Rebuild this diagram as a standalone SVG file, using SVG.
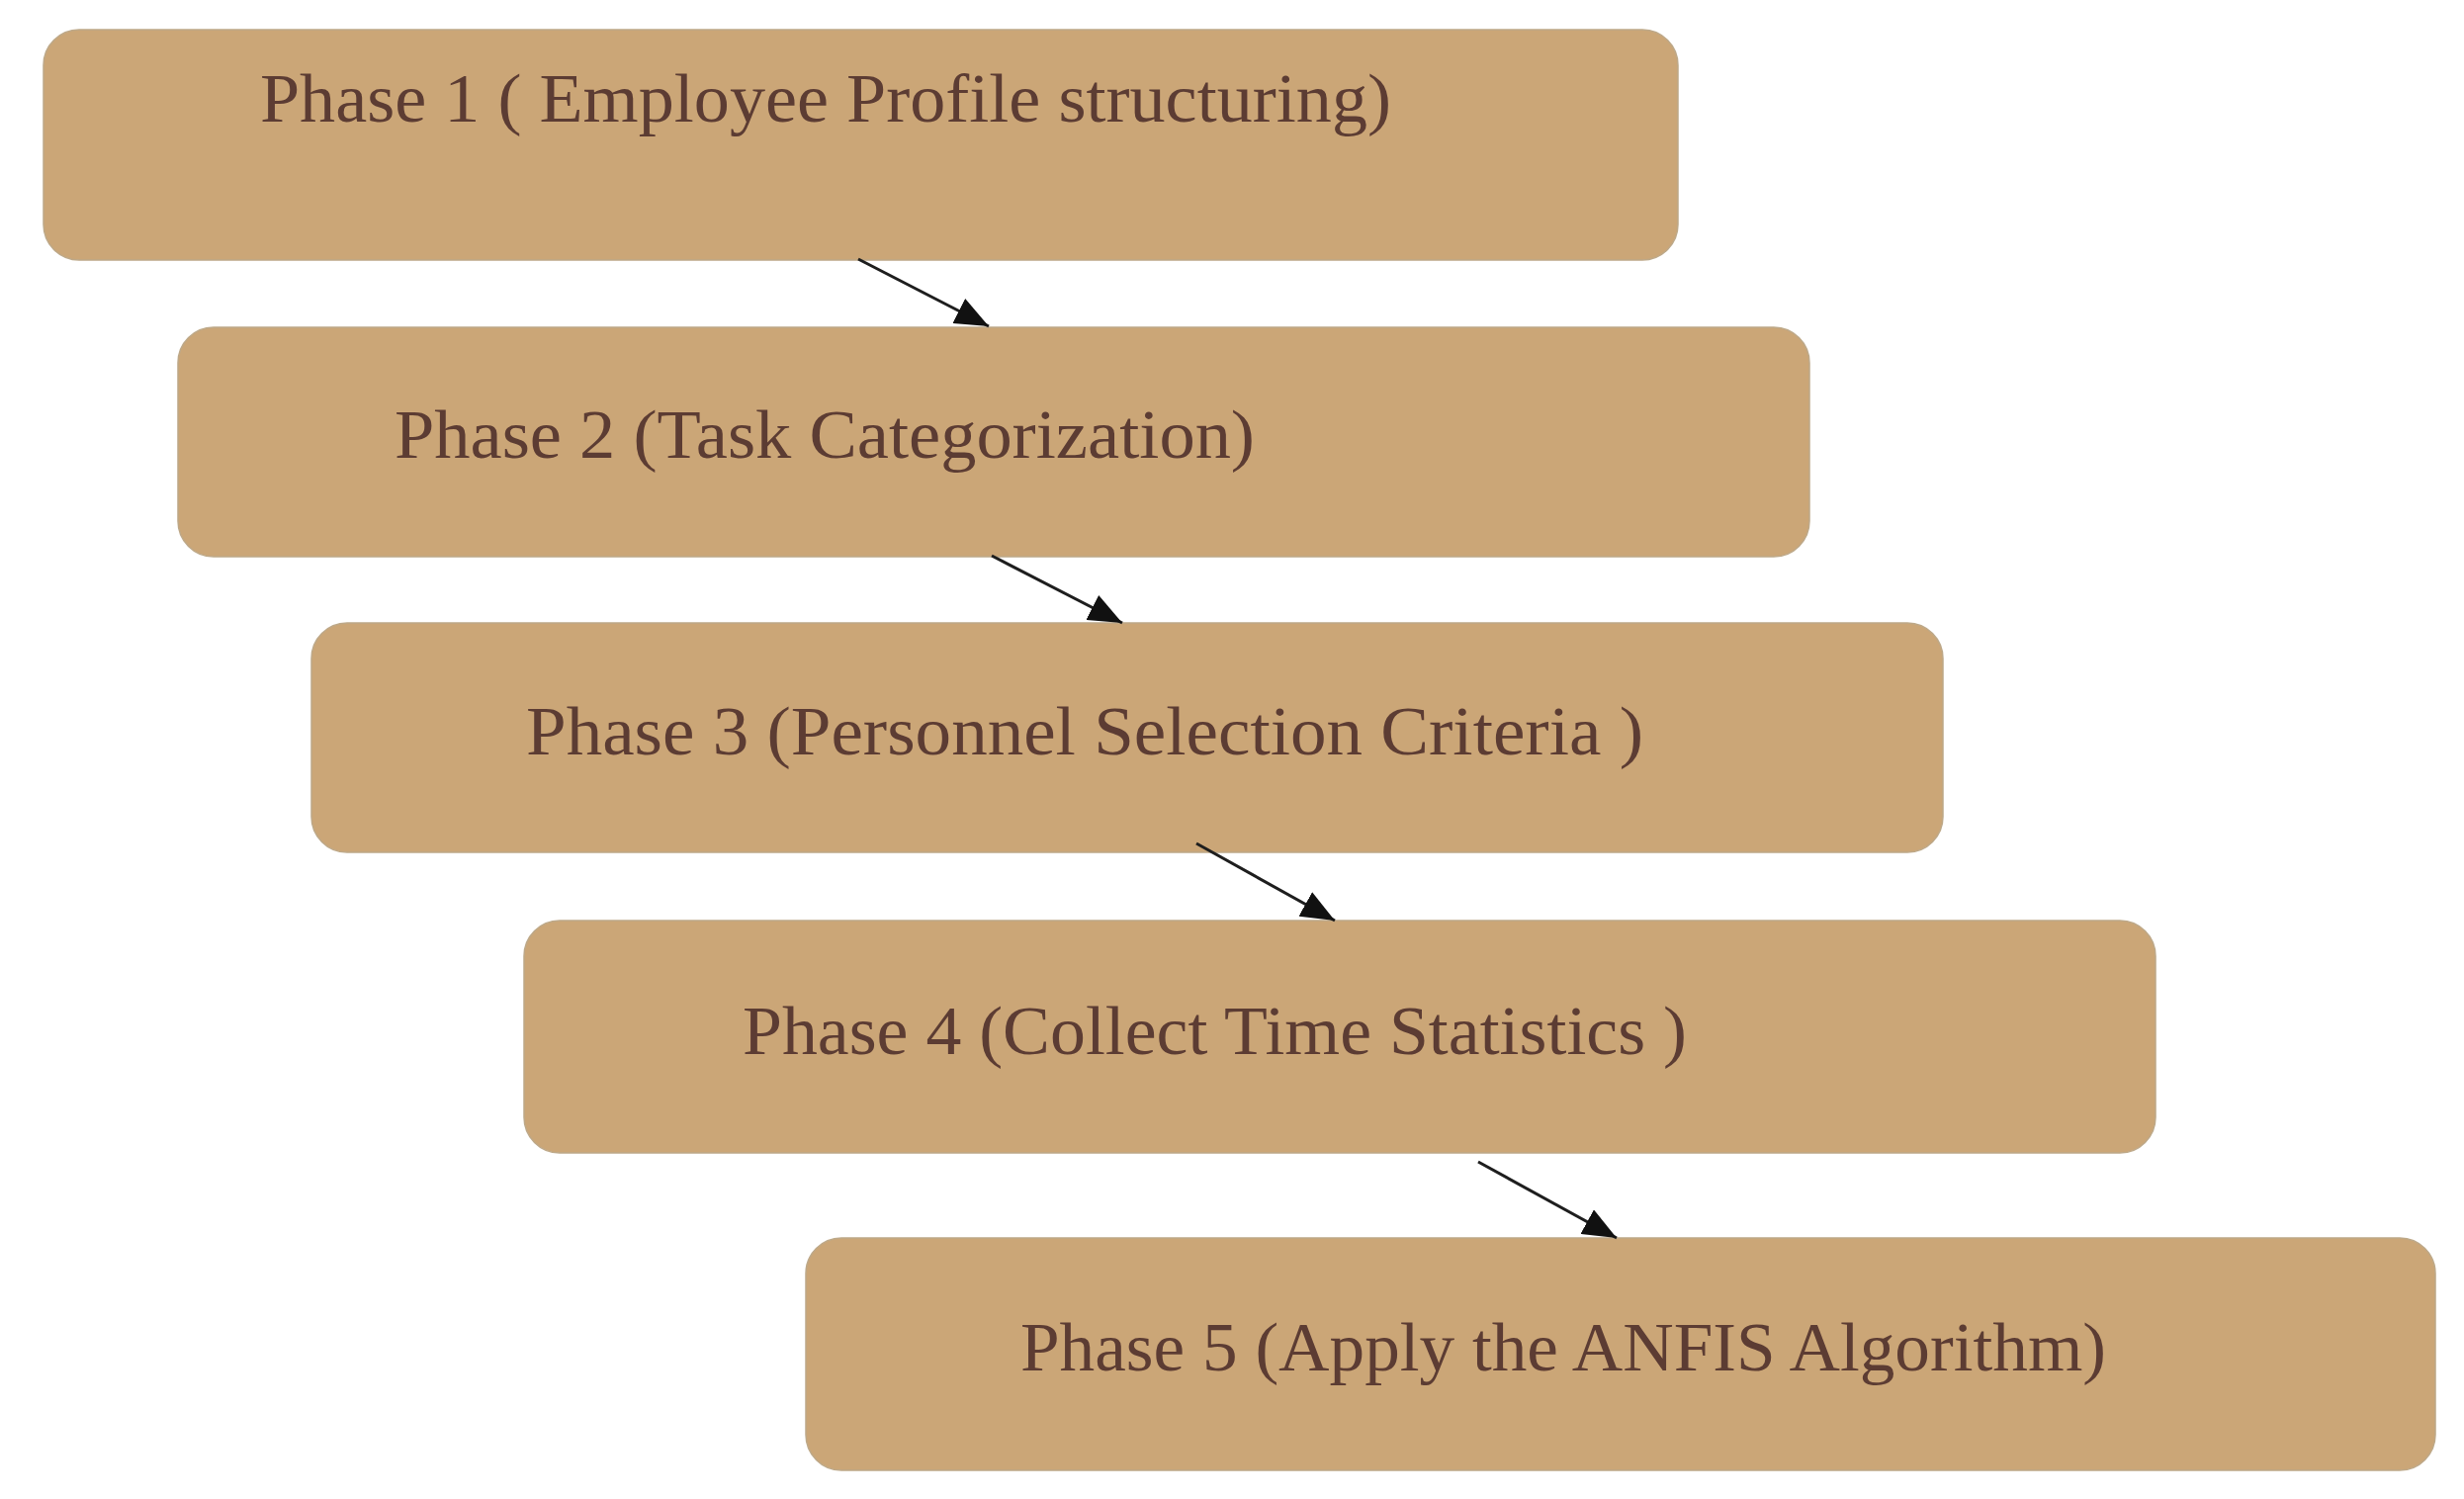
<svg xmlns="http://www.w3.org/2000/svg" width="2492" height="1516" viewBox="0 0 2492 1516">
<style>
.box{fill:#cba677;stroke:#bda888;stroke-width:1.5}
.lbl{font-family:"Liberation Serif","DejaVu Serif",serif;font-size:70px;fill:#5c3c33}
.conn{stroke:#1e1e1e;stroke-width:3;fill:none}
</style>
<defs>
<marker id="ah" markerUnits="userSpaceOnUse" markerWidth="36" markerHeight="28" refX="34" refY="14" orient="auto">
<path d="M0,0 L34,14 L0,28 Z" fill="#111"/>
</marker>
</defs>
<rect width="2492" height="1516" fill="#ffffff"/>
<g id="phase1">
<rect class="box" x="44" y="30" width="1653" height="233" rx="36" ry="36"/>
<text class="lbl" x="263" y="123" textLength="1144" lengthAdjust="spacingAndGlyphs">Phase 1 ( Employee Profile structuring)</text>
</g>
<g id="phase2">
<rect class="box" x="180" y="331" width="1650" height="232" rx="36" ry="36"/>
<text class="lbl" x="399" y="463" textLength="870" lengthAdjust="spacingAndGlyphs">Phase 2 (Task Categorization)</text>
</g>
<g id="phase3">
<rect class="box" x="315" y="630" width="1650" height="232" rx="36" ry="36"/>
<text class="lbl" x="532" y="763" textLength="1130" lengthAdjust="spacingAndGlyphs">Phase 3 (Personnel Selection Criteria )</text>
</g>
<g id="phase4">
<rect class="box" x="530" y="931" width="1650" height="235" rx="36" ry="36"/>
<text class="lbl" x="751" y="1066" textLength="955" lengthAdjust="spacingAndGlyphs">Phase 4 (Collect Time Statistics )</text>
</g>
<g id="phase5">
<rect class="box" x="815" y="1252" width="1648" height="235" rx="36" ry="36"/>
<text class="lbl" x="1032" y="1386" textLength="1098" lengthAdjust="spacingAndGlyphs">Phase 5 (Apply the ANFIS Algorithm)</text>
</g>
<g id="connectors">
<line class="conn" x1="868" y1="262" x2="1000" y2="330" marker-end="url(#ah)"/>
<line class="conn" x1="1003" y1="562" x2="1135" y2="630" marker-end="url(#ah)"/>
<line class="conn" x1="1210" y1="853" x2="1350" y2="931" marker-end="url(#ah)"/>
<line class="conn" x1="1495" y1="1175" x2="1635" y2="1252" marker-end="url(#ah)"/>
</g>
</svg>
